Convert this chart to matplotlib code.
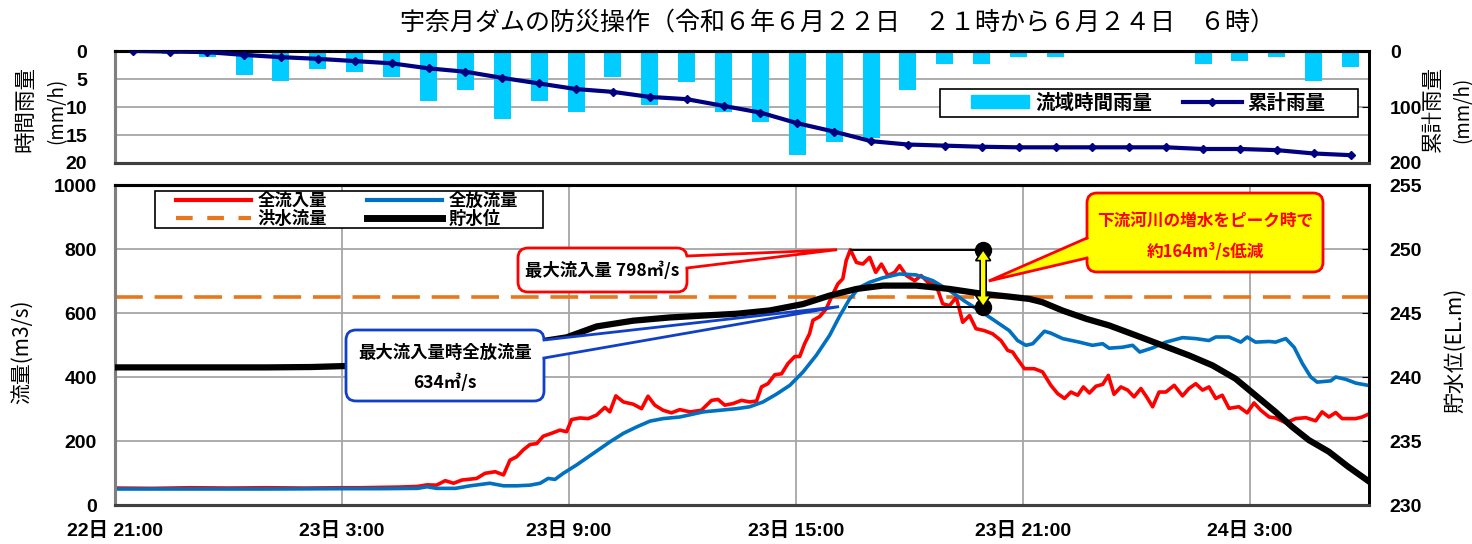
import numpy as np
import matplotlib
matplotlib.use("Agg")
import matplotlib.pyplot as plt
from matplotlib.patches import FancyBboxPatch, Polygon, Patch, Rectangle
from matplotlib.lines import Line2D
from matplotlib.transforms import IdentityTransform
from matplotlib.font_manager import FontProperties

plt.rcParams['font.family'] = ['Liberation Sans', 'Noto Sans CJK JP', 'DejaVu Sans']

# ---------------- data ----------------
# hourly basin rainfall (mm/h), 22日21時 .. 24日6時
hourly_rain = [0.3, 0.5, 1.0, 4.2, 5.3, 3.3, 3.7, 4.7, 9.0, 7.0,
               12.1, 8.9, 10.9, 4.6, 9.6, 5.5, 10.9, 12.6, 18.6, 16.2,
               15.6, 7.0, 2.3, 2.3, 1.1, 1.1, 0.0, 0.0, 0.4, 2.3,
               1.8, 1.1, 5.3, 2.9]
cumulative_rain = [0, 1, 2, 7, 11, 14, 18, 22, 31, 37,
                   48, 58, 68, 73, 82, 86, 98, 110, 129, 144,
                   161, 167, 169, 171, 172, 172, 172, 172, 172, 175,
                   175, 177, 183, 186]

# total inflow (m3/s); time in hours after 22日 21:00
inflow_h = [0, 1, 2, 3, 4, 5, 6, 6.5, 7.0, 7.5, 8.0, 8.25, 8.5, 8.73, 8.95, 9.17, 9.56, 9.78,
            10.05, 10.27, 10.44, 10.62, 10.79, 10.97, 11.15, 11.32, 11.54, 11.76, 11.94,
            12.07, 12.29, 12.51, 12.73, 12.95, 13.08, 13.24, 13.44, 13.7, 13.92, 14.09,
            14.27, 14.49, 14.71, 14.93, 15.2, 15.5, 15.77, 15.94, 16.12, 16.34, 16.56,
            16.78, 16.96, 17.09, 17.26, 17.44, 17.62, 17.79, 17.97, 18.1, 18.23, 18.36,
            18.45, 18.63, 18.8, 18.98, 19.11, 19.24, 19.33, 19.44, 19.6, 19.77, 19.95,
            20.11, 20.26, 20.43, 20.61, 20.74, 20.92, 21.14, 21.31, 21.49, 21.71, 21.88,
            22.06, 22.24, 22.41, 22.59, 22.76, 22.98, 23.2, 23.42, 23.6, 23.73, 23.82,
            24.04, 24.3, 24.52, 24.74, 24.92, 25.1, 25.27, 25.45, 25.6, 25.76, 25.93,
            26.11, 26.26, 26.41, 26.59, 26.77, 26.94, 27.12, 27.27, 27.43, 27.6, 27.78,
            28.0, 28.22, 28.39, 28.57, 28.75, 28.92, 29.1, 29.27, 29.45, 29.71, 29.93,
            30.11, 30.29, 30.51, 30.68, 30.95, 31.21, 31.48, 31.74, 31.91, 32.09, 32.27,
            32.44, 32.8, 32.97, 33.12]
inflow = [53, 52, 54, 53, 54, 53, 54, 54, 55, 56, 58, 63, 62, 76, 68, 78, 83, 99,
          104, 94, 140, 151, 172, 189, 192, 215, 224, 234, 229,
          267, 272, 270, 281, 305, 291, 341, 322, 315, 301, 340,
          312, 296, 288, 298, 291, 296, 327, 330, 312, 317, 327,
          322, 325, 369, 379, 407, 410, 442, 464, 464, 504, 535,
          577, 589, 613, 660, 691, 707, 764, 798, 758, 753, 774,
          727, 753, 717, 727, 748, 717, 701, 717, 696, 686, 629,
          623, 649, 571, 592, 551, 545, 535, 514, 483, 478, 462,
          426, 426, 416, 374, 348, 333, 353, 343, 369, 350, 371,
          377, 405, 346, 369, 359, 338, 364, 338, 307, 353, 353,
          374, 341, 364, 379, 359, 369, 333, 343, 302, 307, 288,
          319, 296, 275, 272, 257, 270, 273, 263, 291, 275, 289,
          270, 270, 275, 283]

# total outflow (m3/s)
outflow_h = [0, 2, 4, 6, 7, 8.0, 8.25, 8.5, 9.0, 9.39, 9.91, 10.27, 10.62, 10.97, 11.24,
             11.45, 11.63, 11.85, 12.2, 12.64, 13.08, 13.44, 13.79, 14.14, 14.49, 14.93,
             15.55, 16.43, 16.78, 17.13, 17.48, 17.84, 18.19, 18.54, 18.89, 19.15, 19.42,
             19.68, 19.95, 20.3, 20.74, 21.18, 21.62, 22.06, 22.5, 22.93, 23.38, 23.64,
             23.86, 24.08, 24.26, 24.57, 24.74, 25.05, 25.49, 25.84, 26.11, 26.28, 26.63,
             26.9, 27.09, 27.43, 27.78, 28.22, 28.57, 28.92, 29.1, 29.45, 29.76, 29.93,
             30.15, 30.51, 30.68, 30.95, 31.17, 31.39, 31.61, 31.78, 32.14, 32.27, 32.53,
             32.8, 33.12]
outflow = [50, 50, 50, 51, 51, 52, 57, 52, 52, 60, 68, 60, 60, 62, 68,
           83, 80, 99, 125, 161, 197, 224, 244, 262, 270, 275,
           291, 301, 307, 322, 346, 374, 416, 468, 530, 589, 644,
           680, 696, 710, 722, 719, 701, 670, 634, 602, 566, 545,
           514, 499, 504, 543, 537, 520, 509, 499, 504, 490, 493,
           499, 478, 491, 509, 523, 520, 514, 525, 525, 509, 525,
           509, 511, 509, 520, 493, 442, 400, 384, 388, 400, 393,
           381, 374]

# reservoir water level (EL.m)
level_h = [0, 4, 5.2, 6, 7, 8, 9, 10, 11, 11.4, 11.94, 12.73, 13.7, 14.66, 15.55, 16.43,
           17.31, 18.19, 18.89, 19.6, 20.3, 21.18, 22.06, 22.93, 23.64, 24.17, 24.52,
           25.05, 25.67, 26.28, 26.99, 27.69, 28.39, 29.01, 29.62, 30.15, 30.68, 31.12,
           31.56, 32.09, 32.6, 33.12]
level = [240.75, 240.75, 240.78, 240.85, 240.9, 241.1, 241.6, 242.1, 242.6, 242.85,
         243.1, 243.95, 244.4, 244.65, 244.8, 244.94, 245.2, 245.7, 246.36, 246.88,
         247.14, 247.14, 246.88, 246.5, 246.28, 246.1, 245.84, 245.19, 244.55, 244.03,
         243.25, 242.47, 241.69, 240.91, 239.87, 238.57, 237.27, 236.1, 235.07, 234.16,
         232.99, 231.9]

flood_flow = 650
peak_inflow = 798
outflow_at_peak = 634
reduction = 164
reduction_low_mark = 620
arrow_h = 22.95

xtick_hours = [0, 6, 12, 18, 24, 30]
xtick_labels = ['22日 21:00', '23日 3:00', '23日 9:00', '23日 15:00', '23日 21:00', '24日 3:00']
title = '宇奈月ダムの防災操作（令和６年６月２２日　２１時から６月２４日　６時）'

# ---------------- figure ----------------
W, H = 1472, 544
fig = plt.figure(figsize=(W / 100, H / 100), dpi=100)
JP = ['Noto Sans CJK JP', 'DejaVu Sans']
NUM_BOLD = FontProperties(family=['Liberation Sans', 'Noto Sans CJK JP', 'DejaVu Sans'],
                          weight='bold', size=14)
IDT = IdentityTransform()

C_RAIN = '#00CCFF'
C_CUM = '#000080'
C_IN = '#FF0000'
C_OUT = '#0070C0'
C_FLOOD = '#E8761A'
GRID = '#a6a6a6'


def style_ticks(ax):
    for lab in ax.get_xticklabels() + ax.get_yticklabels():
        lab.set_fontproperties(NUM_BOLD)


def style_spines(ax, left='#7f7f7f'):
    ax.spines['top'].set_color('black')
    ax.spines['top'].set_linewidth(2.2)
    ax.spines['bottom'].set_color('#404040')
    ax.spines['bottom'].set_linewidth(2.2)
    ax.spines['left'].set_color(left)
    ax.spines['left'].set_linewidth(2.2)
    ax.spines['right'].set_color('black')
    ax.spines['right'].set_linewidth(2.0)


def frame_box(x0, y0, x1, y1, z=7.9):
    fig.add_artist(Rectangle((x0, H - y1), x1 - x0, y1 - y0, fc='white', ec='black', lw=1.2,
                             transform=IDT, zorder=z))


# ---- rainfall panel ----
ax_r = fig.add_axes([115 / W, 1 - 163 / H, 1254 / W, 112 / H])
idx = np.arange(len(hourly_rain))
ax_r.bar(idx, hourly_rain, width=0.46, color=C_RAIN, zorder=2)
ax_r.set_xlim(-0.5, len(hourly_rain) - 0.5)
ax_r.set_ylim(20, 0)
ax_r.set_yticks([0, 5, 10, 15, 20])
ax_r.set_xticks([])
ax_r.grid(axis='y', color=GRID, lw=1.3)
ax_r.set_axisbelow(True)
ax_r.tick_params(axis='y', length=0, pad=20)
style_ticks(ax_r)
style_spines(ax_r)

ax_c = ax_r.twinx()
ax_c.plot(idx, cumulative_rain, color=C_CUM, lw=3, marker='D', ms=4.5, zorder=3)
ax_c.set_ylim(200, 0)
ax_c.set_yticks([0, 100, 200])
ax_c.tick_params(axis='y', length=5, direction='in', pad=15)
style_ticks(ax_c)
style_spines(ax_c)

frame_box(940, 89, 1358, 117)
leg1 = fig.legend([Patch(color=C_RAIN), Line2D([], [], color=C_CUM, lw=3, marker='D', ms=4.5)],
                  ['流域時間雨量', '累計雨量'], loc='center left',
                  bbox_to_anchor=(971 / W, 1 - 103 / H), ncol=2, frameon=False,
                  borderaxespad=0, borderpad=0,
                  handlelength=3.0, handleheight=0.65, handletextpad=0.3, columnspacing=1.6,
                  prop=FontProperties(family=JP, weight='bold', size=14))
leg1.set_zorder(8)

# ---- flow panel ----
ax_q = fig.add_axes([115 / W, 1 - 505 / H, 1254 / W, 320 / H])
ax_q.plot(inflow_h, inflow, color=C_IN, lw=2.6, zorder=3)
ax_q.plot(outflow_h, outflow, color=C_OUT, lw=2.6, zorder=3)
ax_q.axhline(flood_flow, color=C_FLOOD, lw=2.6, dashes=(20 / 2.6, 8.5 / 2.6), zorder=2)
ax_q.set_xlim(0, 33.15)
ax_q.set_ylim(0, 1000)
ax_q.set_yticks(np.arange(0, 1001, 200))
ax_q.set_xticks(xtick_hours)
ax_q.set_xticklabels(xtick_labels)
ax_q.grid(True, color=GRID, lw=1.3)
ax_q.set_axisbelow(True)
ax_q.tick_params(axis='y', length=0, pad=13)
ax_q.tick_params(axis='x', length=0, pad=12)
style_ticks(ax_q)
style_spines(ax_q)

i_pk = int(np.argmax(inflow))
pk_h = inflow_h[i_pk]
ax_q.hlines([peak_inflow, reduction_low_mark], [pk_h, pk_h - 0.07], arrow_h,
            color='black', lw=1.4, zorder=4)

ax_l = ax_q.twinx()
ax_l.plot(level_h, level, color='black', lw=4.5, zorder=3)
ax_l.set_ylim(230, 255)
ax_l.set_yticks(np.arange(230, 256, 5))
ax_l.tick_params(axis='y', length=5, direction='in', pad=15)
style_ticks(ax_l)
style_spines(ax_l)

frame_box(155, 191, 543, 228)
leg2 = fig.legend([Line2D([], [], color=C_IN, lw=3),
                   Line2D([], [], color=C_FLOOD, lw=3, dashes=(4, 3.5)),
                   Line2D([], [], color=C_OUT, lw=3),
                   Line2D([], [], color='black', lw=5)],
                  ['全流入量', '洪水流量', '全放流量', '貯水位'], loc='center left',
                  bbox_to_anchor=(176 / W, 1 - 210 / H), ncol=2, frameon=False,
                  borderaxespad=0, borderpad=0,
                  handlelength=4.3, handletextpad=0.4, columnspacing=2.3, labelspacing=0.0,
                  prop=FontProperties(family=JP, weight='bold', size=12.5))
leg2.set_zorder(8)


# ---- callouts ----
def d2px(x, y):
    return ax_q.transData.transform((x, y))


def callout(box, base, tip, fc, ec, lw=2.0, z=10):
    x0, y0, x1, y1 = box
    fig.add_artist(FancyBboxPatch((x0, H - y1), x1 - x0, y1 - y0,
                                  boxstyle='round,pad=0,rounding_size=10', fc=fc, ec=ec,
                                  lw=lw, transform=IDT, zorder=z))
    (bx1, by1), (bx2, by2) = base
    cx = (x0 + x1) / 2
    sgn = 1 if cx > bx1 else -1
    p1 = (bx1, H - by1)
    p2 = (bx2, H - by2)
    fig.add_artist(Polygon([(p1[0] + 4 * sgn, p1[1]), tuple(tip), (p2[0] + 4 * sgn, p2[1])],
                           closed=True, fc=fc, ec='none', transform=IDT, zorder=z + 0.1))
    fig.add_artist(Line2D([p1[0], tip[0], p2[0]], [p1[1], tip[1], p2[1]], color=ec, lw=lw,
                          transform=IDT, zorder=z + 0.2, solid_joinstyle='miter'))


def ftext(px, py, s, **kw):
    fig.text(px / W, 1 - py / H, s, ha='center', va='center', zorder=12, **kw)


callout((518, 248, 687, 292), ((687, 256), (687, 268)), d2px(pk_h - 0.35, peak_inflow),
        'white', C_IN)
ftext(602, 271, f'最大流入量 {peak_inflow}㎥/s', family=JP, weight='bold', size=12.5,
      color='black')

callout((346, 330, 544, 401), ((544, 340), (544, 358)), d2px(pk_h - 0.3, reduction_low_mark),
        'white', '#1040C8')
ftext(445, 353, '最大流入量時全放流量', family=JP, weight='bold', size=12.5, color='black')
ftext(445, 383, f'{outflow_at_peak}㎥/s', family=JP, weight='bold', size=12.5, color='black')

callout((1087, 193, 1323, 272), ((1087, 238), (1087, 258)), d2px(arrow_h + 0.15, 700),
        '#FFFF00', C_IN)
ftext(1205, 222, '下流河川の増水をピーク時で', family=JP, weight='bold', size=12,
      color=C_IN)
ftext(1205, 252, f'約{reduction}m³/s低減', family=JP, weight='bold', size=12, color=C_IN)

# double arrow with end dots
ax_top_px = d2px(arrow_h, peak_inflow)
ax_bot_px = d2px(arrow_h, reduction_low_mark)
x0 = ax_top_px[0]
yt, yb = ax_top_px[1], ax_bot_px[1]
fig.add_artist(Line2D([x0, x0], [yt, yb], ls='none', marker='o', ms=11.5, color='black',
                      transform=IDT, zorder=9))
hs, hh, hl = 3.0, 7.5, 11.0
pts = [(x0, yt), (x0 + hh, yt - hl), (x0 + hs, yt - hl), (x0 + hs, yb + hl), (x0 + hh, yb + hl),
       (x0, yb), (x0 - hh, yb + hl), (x0 - hs, yb + hl), (x0 - hs, yt - hl), (x0 - hh, yt - hl)]
fig.add_artist(Polygon(pts, closed=True, fc='#FFFF00', ec='black', lw=1.2, transform=IDT,
                       zorder=9.5))

# ---- texts ----
ftext(838, 23, title, family=JP, size=18)
ftext(25, 109, '時間雨量', family=JP, size=15.5, rotation=90)
ftext(57, 111, '(mm/h)', family=JP, size=13.5, rotation=90)
ftext(1433, 109, '累計雨量', family=JP, size=15.5, rotation=90)
ftext(1463, 110, '(mm/h)', family=JP, size=13.5, rotation=90)
ftext(22, 352, '流量(m3/s)', family=JP, size=15, rotation=90)
ftext(1455, 350, '貯水位(EL.m)', family=JP, size=15, rotation=90)

fig.savefig('out.png', dpi=100)
